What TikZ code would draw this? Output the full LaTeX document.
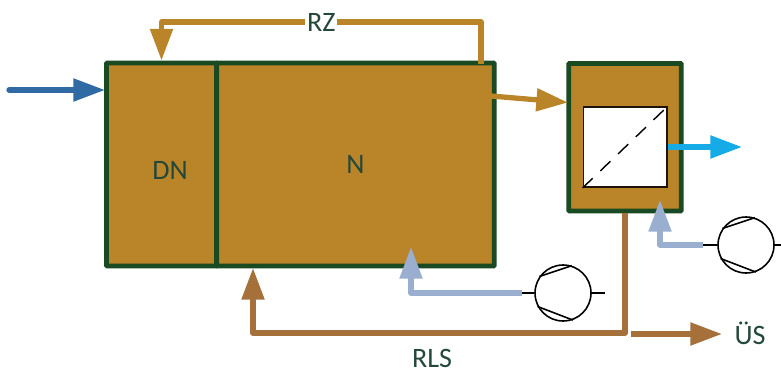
\documentclass[tikz,border=0pt]{standalone}
\usepackage{xcolor}
\usepackage{fontspec}
\setmainfont{Carlito}
\usetikzlibrary{arrows.meta}
\definecolor{sludge}{HTML}{BA8428}
\definecolor{frame}{HTML}{1A4A22}
\definecolor{labelgreen}{HTML}{24483A}
\definecolor{inflow}{HTML}{2F6AA5}
\definecolor{effluent}{HTML}{14ABE6}
\definecolor{air}{HTML}{9AAFD0}
\definecolor{returnsludge}{HTML}{A5703A}

\begin{document}
\begin{tikzpicture}[
    basin/.style={rectangle, draw=frame, fill=sludge, line width=2.83pt, inner sep=0pt, rounded corners=0.5pt, font=\fontsize{16}{18}\selectfont, text=labelgreen},
    tag/.style={font=\fontsize{16}{18}\selectfont, text=labelgreen, inner sep=1pt},
    blower/.style={circle, draw=black, line width=0.9pt, minimum size=1.12cm, inner sep=0pt},
    stub/.style={draw=black, line width=0.9pt},
    arrow/.style={-{Triangle[length=18pt,width=12.5pt]}, line width=3pt, line join=round}
]
    \useasboundingbox (0,0) rectangle (15.62,7.44);

    % Basins
    \node[basin, minimum width=2.2cm, minimum height=4.06cm] (dn) at (3.23,4.15) {};
    \node[basin, minimum width=5.55cm, minimum height=4.06cm] (n) at (7.11,4.15) {N};
    \node[tag] (dn-label) at (3.40,4.04) {DN};

    % Settling tank with membrane
    \node[basin, minimum width=2.25cm, minimum height=2.95cm] (settler) at (12.50,4.695) {};
    \node[rectangle, draw=black!85!brown, fill=white, line width=1.1pt, minimum width=1.67cm, minimum height=1.6cm, inner sep=0pt] (membrane) at (12.505,4.50) {};
    \draw[black, line width=0.8pt, dash pattern=on 8pt off 6pt] (membrane.south west) -- (membrane.north east);

    % Blowers
    \node[blower] (blower-n) at (11.26,1.58) {};
    \draw[stub] (blower-n.145) -- (blower-n.72);
    \draw[stub] (blower-n.-152) -- (blower-n.-70);
    \node[blower] (blower-s) at (14.92,2.54) {};
    \draw[stub] (blower-s.145) -- (blower-s.72);
    \draw[stub] (blower-s.-152) -- (blower-s.-70);

    % Free ends
    \coordinate (inflow-start) at (0.18,5.64);
    \coordinate (inflow-end) at (2.10,5.64);
    \coordinate (rz-start) at (9.62,6.16);
    \coordinate (rz-top) at (9.62,7.00);
    \coordinate (n-out) at (9.82,5.52);
    \coordinate (settler-in) at (11.36,5.39);
    \coordinate (effluent-end) at (14.84,4.50);
    \coordinate (blower-n-in) at (10.44,1.58);
    \coordinate (blower-n-out) at (12.10,1.58);
    \coordinate (air-n-end) at (8.22,2.50);
    \coordinate (blower-s-in) at (14.06,2.54);
    \coordinate (blower-s-out) at (15.62,2.54);
    \coordinate (air-s-end) at (13.20,3.44);
    \coordinate (rls-corner) at (12.50,0.78);
    \coordinate (rls-end) at (5.06,2.08);
    \coordinate (us-start) at (12.62,0.76);
    \coordinate (us-end) at (14.44,0.76);

    % Blower stubs
    \draw[stub] (blower-n.west) -- (blower-n-in);
    \draw[stub] (blower-n.east) -- (blower-n-out);
    \draw[stub] (blower-s.west) -- (blower-s-in);
    \draw[stub] (blower-s.east) -- (blower-s-out);

    % Flows
    \draw[arrow, inflow, line cap=round] (inflow-start) -- (inflow-end);
    \draw[arrow, sludge] (rz-start) -- (rz-top) -| node[pos=0.25, fill=white, inner sep=1pt, tag] (rz-label) {RZ} (dn.north);
    \draw[arrow, sludge] (n-out) -- (settler-in);
    \draw[arrow, effluent] (membrane.east) -- (effluent-end);
    \draw[arrow, air] (blower-n-in) -| (air-n-end);
    \draw[arrow, air] (blower-s-in) -| (air-s-end);
    \draw[arrow, returnsludge] (settler.south) -- (rls-corner) -| (rls-end);
    \draw[arrow, returnsludge] (us-start) -- (us-end);

    % Labels
    \node[tag] (rls-label) at (8.64,0.28) {RLS};
    \node[tag] (us-label) at (15.00,0.78) {ÜS};
\end{tikzpicture}
\end{document}
